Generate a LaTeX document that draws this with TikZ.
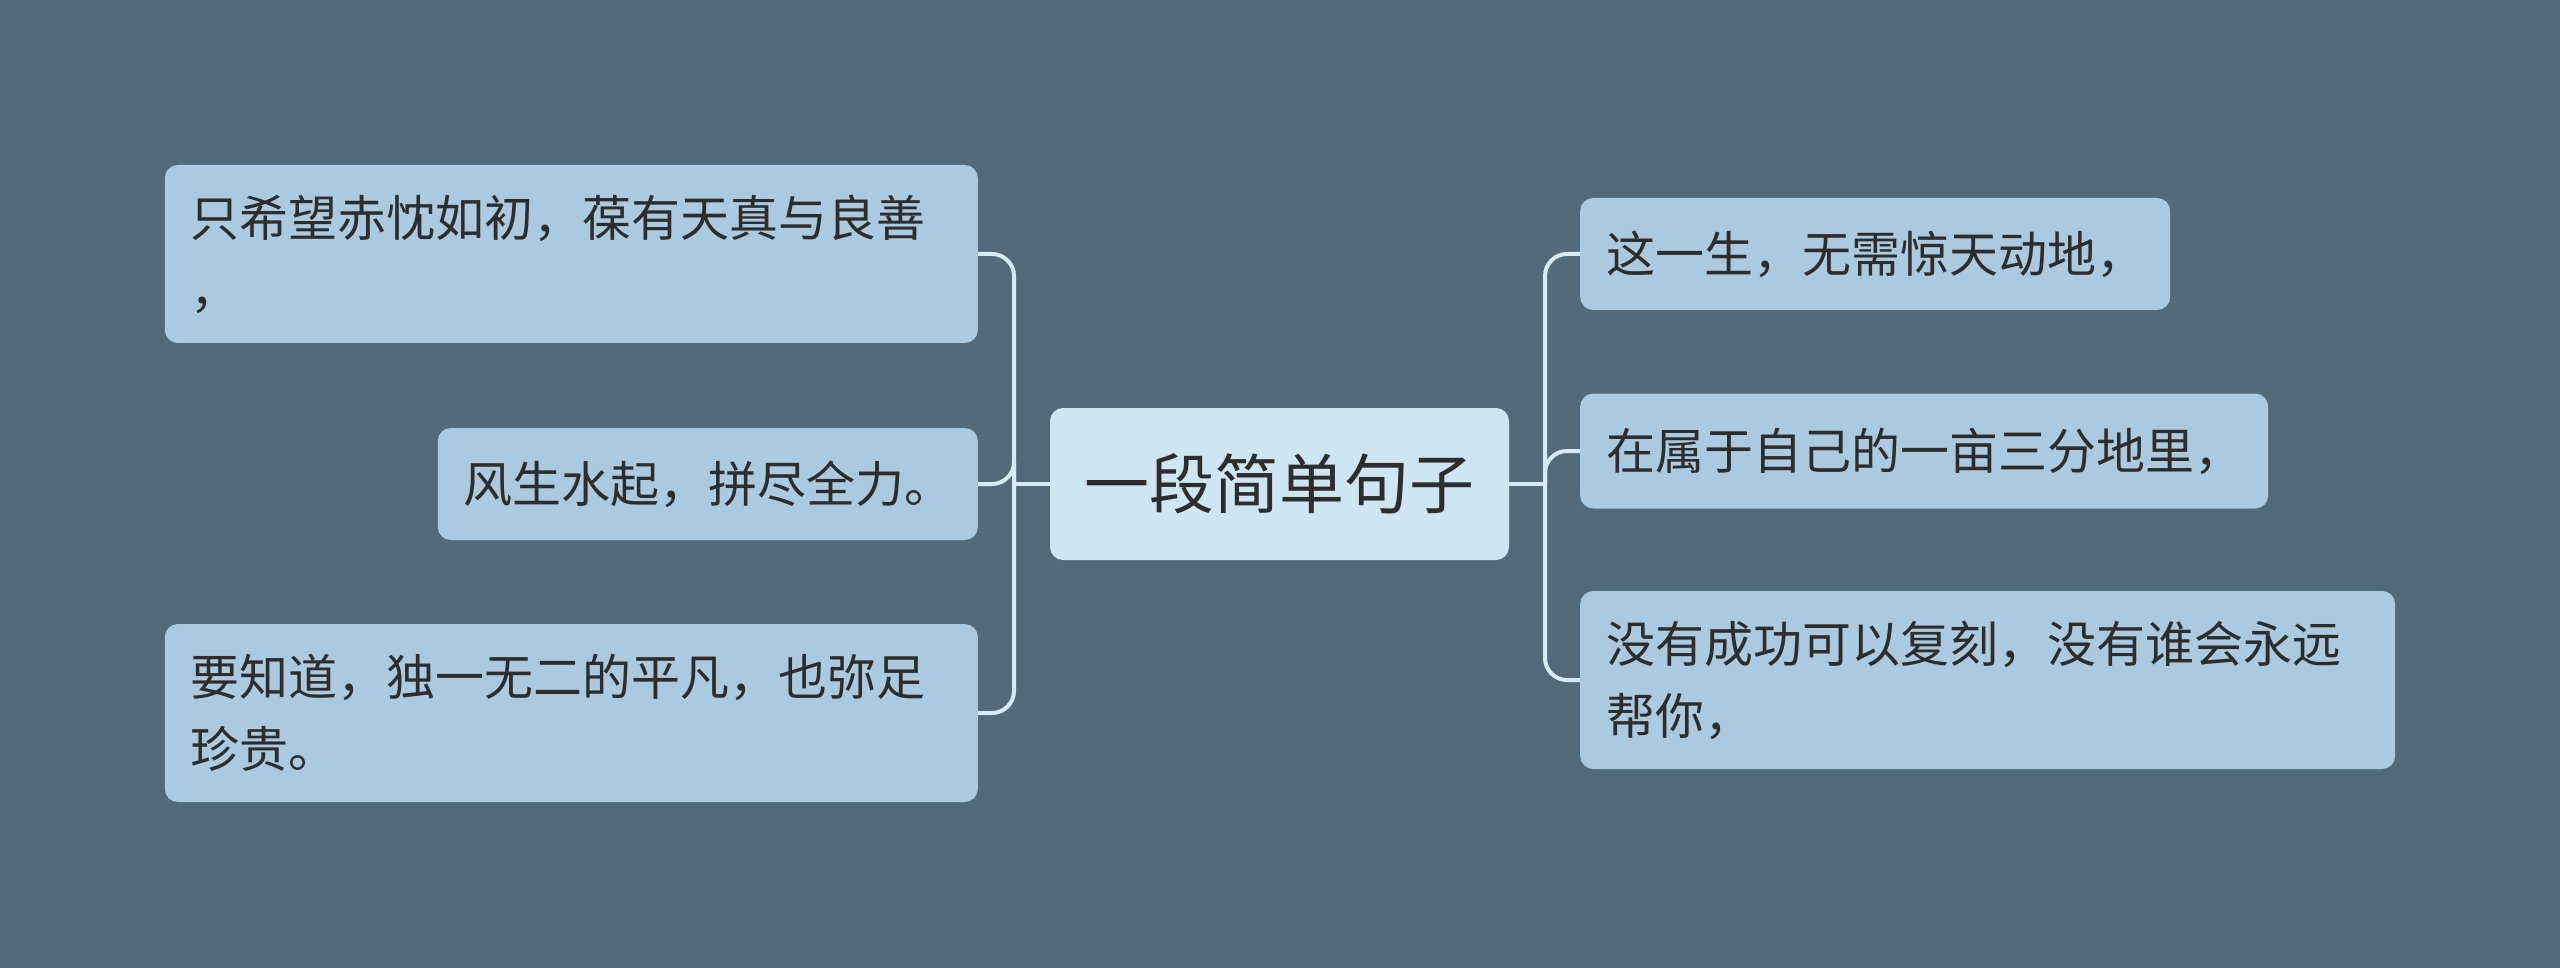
\documentclass[tikz,border=0pt]{standalone}
\usepackage{fontspec}
\newfontfamily\cjk{Noto Sans CJK SC}
\definecolor{bgcol}{HTML}{536A7A}
\definecolor{leafcol}{HTML}{ABCAE0}
\definecolor{rootcol}{HTML}{CEE5F2}
\definecolor{linkcol}{HTML}{D8EBF5}
\definecolor{txtcol}{HTML}{2D2D2D}

\begin{document}
\begin{tikzpicture}
[
	x=1pt,
	y=-1pt,
	leaf/.style={rounded corners=13pt,fill=leafcol,text=txtcol,inner xsep=26pt,inner ysep=0pt,
		align=left,text width=#1,font=\cjk\fontsize{49}{72}\selectfont},
	root/.style={rounded corners=13pt,fill=rootcol,text=txtcol,inner sep=0pt,
		minimum width=459pt,minimum height=152pt,font=\cjk\fontsize{65}{78}\selectfont},
	link/.style={linkcol,line width=4pt,rounded corners=22pt}
]

	% background
	\fill[bgcol] (0,0) rectangle (2560,968);
	\useasboundingbox (0,0) rectangle (2560,968);

	% root
	\node[root] at (1279.5,484) (c) {一段简单句子};

	% left leaves
	\node[leaf=761pt,minimum height=178pt,anchor=east] at (978,254) (l1) {只希望赤忱如初，葆有天真与良善\\，};
	\node[leaf=488pt,minimum height=112pt,anchor=east] at (978,484) (l2) {风生水起，拼尽全力。};
	\node[leaf=761pt,minimum height=178pt,anchor=east] at (978,713) (l3) {要知道，独一无二的平凡，也弥足\\珍贵。};

	% right leaves
	\node[leaf=538pt,minimum height=112pt,anchor=west] at (1580,254) (r1) {这一生，无需惊天动地，};
	\node[leaf=636pt,minimum height=115pt,anchor=west] at (1580,451) (r2) {在属于自己的一亩三分地里，};
	\node[leaf=763pt,minimum height=178pt,anchor=west] at (1580,680) (r3) {没有成功可以复刻，没有谁会永远\\帮你，};

	% connectors
	\coordinate (tl) at (1014,484);
	\coordinate (tr) at (1545,484);
	\draw[link] (c.west) -- (tl);
	\draw[link] (c.east) -- (tr);
	\foreach \n in {l1,l2,l3} {
		\draw[link] (tl) |- (\n.east);
	}
	\foreach \n in {r1,r2,r3} {
		\draw[link] (tr) |- (\n.west);
	}

\end{tikzpicture}
\end{document}
